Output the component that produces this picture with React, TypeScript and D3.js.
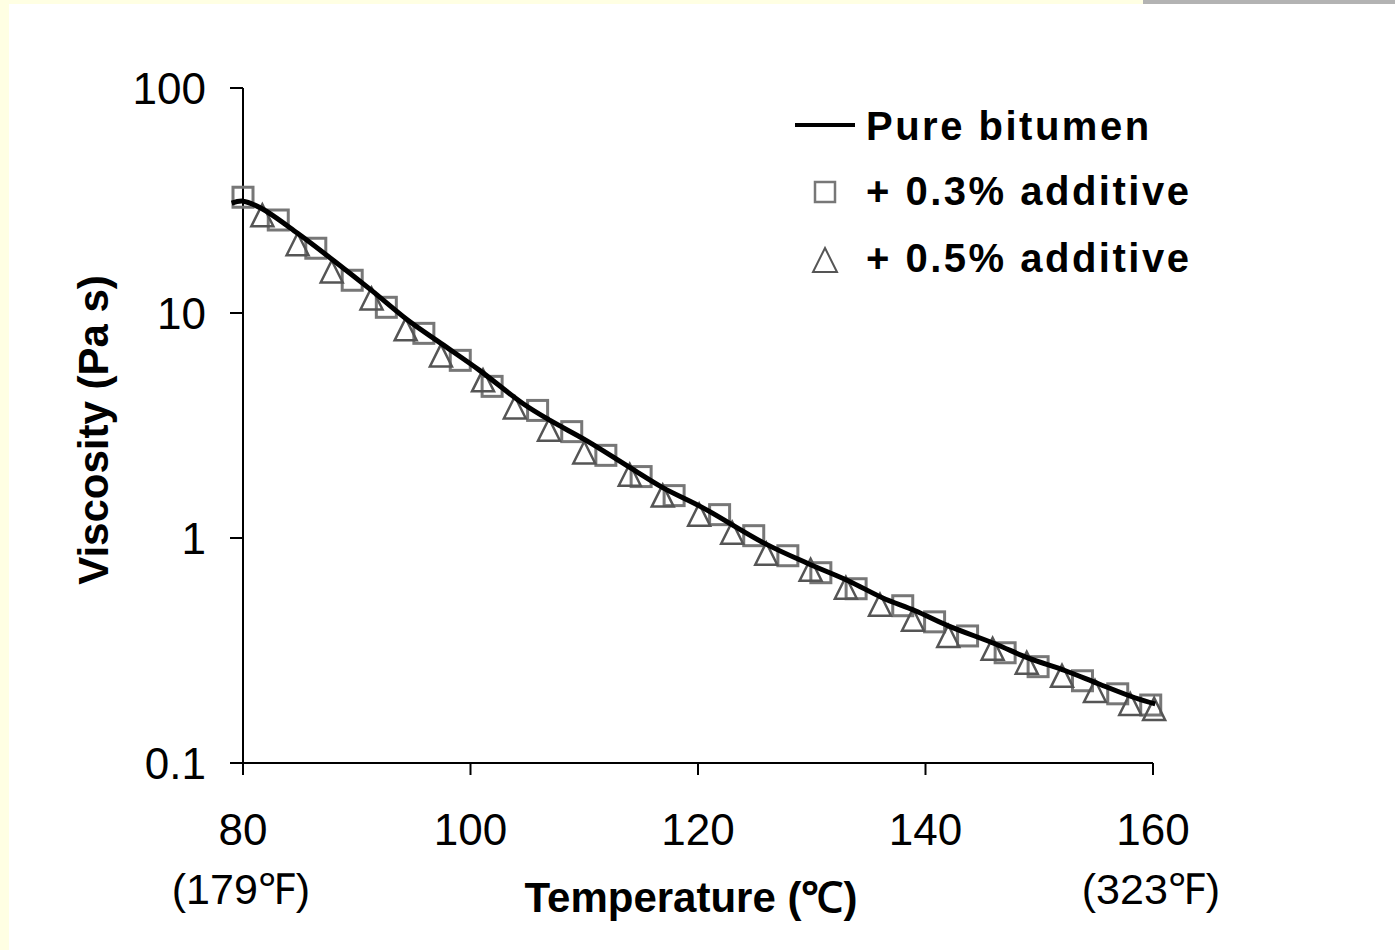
import React from 'react'
import * as d3 from 'd3'

// viscosity vs temperature, log scale
const lineTemps = [79, 80, 81.6, 84.8, 88.1, 91.3, 94.5, 97.4, 100.8, 104.6, 107, 110.2, 114, 116.9, 120.4, 125.9, 129.7, 133.2, 136.2, 139.1, 142, 146.1, 149, 152.3, 155.2, 158.4, 160.2]
const pureBitumen = [30.8, 31.4, 29.2, 22.6, 16.9, 12.6, 9.28, 7.33, 5.56, 3.96, 3.33, 2.71, 2.06, 1.675, 1.365, 0.944, 0.769, 0.646, 0.543, 0.475, 0.407, 0.339, 0.293, 0.257, 0.225, 0.195, 0.183]

const sqTemps = [80, 83.1, 86.4, 89.6, 92.6, 95.9, 99.1, 101.9, 105.9, 108.9, 111.9, 115, 117.9, 121.9, 124.9, 127.9, 130.8, 133.9, 138, 140.8, 143.7, 147, 149.9, 153.8, 156.9, 159.8]
const additive03 = [32.7, 25.9, 19.4, 13.98, 10.6, 8.12, 6.16, 4.72, 3.69, 2.97, 2.33, 1.875, 1.543, 1.27, 1.024, 0.834, 0.701, 0.595, 0.5, 0.424, 0.367, 0.309, 0.268, 0.232, 0.203, 0.181]

const triTemps = [81.7, 84.8, 87.8, 91.3, 94.3, 97.4, 101.1, 103.9, 106.9, 110, 114, 116.9, 120.1, 123, 126, 129.9, 133, 136, 138.9, 142, 145.9, 148.9, 152, 154.9, 158, 160.1]
const additive05 = [27.2, 20.2, 15.3, 11.6, 8.46, 6.48, 5.02, 3.8, 3.03, 2.4, 1.91, 1.543, 1.27, 1.056, 0.852, 0.723, 0.601, 0.505, 0.433, 0.367, 0.322, 0.279, 0.244, 0.209, 0.183, 0.174]

const yTicks = [0.1, 1, 10, 100]
const xTicks = [80, 100, 120, 140, 160]
const fahrenheit: Record<number, string> = {80: '(179℉)', 160: '(323℉)'}
const legendItems = ['Pure bitumen', '+ 0.3% additive', '+ 0.5% additive']

const W = 1395
const H = 950
const font = '"Liberation Sans", Arial, sans-serif'

export default function App() {
  const x = d3.scaleLinear().domain([80, 160]).range([243, 1153])
  const y = d3.scaleLog().domain([0.1, 100]).range([763, 88])

  const line = d3
    .line<number>()
    .x((d, i) => x(lineTemps[i]))
    .y((d) => y(d))
    .curve(d3.curveCatmullRom.alpha(0.5))

  const tri = (cx: number, cy: number, s: number) =>
    `M${cx},${cy - s / 2}L${cx + s / 2},${cy + s / 2}L${cx - s / 2},${cy + s / 2}Z`

  return (
    <svg width={W} height={H} style={{position: 'absolute', left: 0, top: 0, background: '#fff'}}>
      {/* page frame */}
      <rect x={0} y={0} width={1143} height={4} fill="#ffffe3" />
      <rect x={1143} y={0} width={W - 1143} height={4} fill="#b3b3b3" />
      <rect x={0} y={0} width={9} height={H} fill="#ffffe3" />

      {/* axes */}
      <g stroke="#000" strokeWidth={2}>
        <line x1={x(80)} x2={x(80)} y1={y(100)} y2={y(0.1)} />
        <line x1={x(80)} x2={x(160)} y1={y(0.1)} y2={y(0.1)} />
        {yTicks.map((t) => (
          <line key={t} x1={x(80) - 13} x2={x(80)} y1={y(t)} y2={y(t)} />
        ))}
        {xTicks.map((t) => (
          <line key={t} x1={x(t)} x2={x(t)} y1={y(0.1)} y2={y(0.1) + 12} />
        ))}
      </g>
      <g fontFamily={font} fontSize={44} fill="#000">
        {yTicks.map((t) => (
          <text key={t} x={206} y={y(t) + 16} textAnchor="end">
            {t}
          </text>
        ))}
        {xTicks.map((t) => (
          <text key={t} x={x(t)} y={845} textAnchor="middle">
            {t}
          </text>
        ))}
        {xTicks
          .filter((t) => fahrenheit[t])
          .map((t) => (
            <text key={'f' + t} x={x(t) - 2} y={904} textAnchor="middle" fontSize={43}>
              {fahrenheit[t]}
            </text>
          ))}
      </g>
      <text x={691} y={912} textAnchor="middle" fontFamily={font} fontWeight="bold" fontSize={42}>
        Temperature (℃)
      </text>
      <text
        transform="translate(108,430) rotate(-90)"
        textAnchor="middle"
        fontFamily={font}
        fontWeight="bold"
        fontSize={42}
      >
        Viscosity (Pa s)
      </text>

      {/* markers */}
      <g fill="none" stroke="#777" strokeWidth={3}>
        {additive03.map((v, i) => (
          <rect key={i} x={x(sqTemps[i]) - 10} y={y(v) - 10} width={20} height={20} />
        ))}
      </g>
      <g fill="none" stroke="#555" strokeWidth={2.5}>
        {additive05.map((v, i) => (
          <path key={i} d={tri(x(triTemps[i]), y(v), 22)} />
        ))}
      </g>
      <path d={line(pureBitumen) || ''} fill="none" stroke="#000" strokeWidth={5} />

      {/* legend */}
      <g fontFamily={font} fontWeight="bold" fontSize={40} letterSpacing={2.5}>
        <line x1={795} x2={855} y1={125} y2={125} stroke="#000" strokeWidth={4} />
        <text x={866} y={140}>{legendItems[0]}</text>
        <rect x={815} y={182} width={20} height={20} fill="none" stroke="#777" strokeWidth={2.5} />
        <text x={866} y={205}>{legendItems[1]}</text>
        <path d={tri(825, 260, 24)} fill="none" stroke="#555" strokeWidth={2} />
        <text x={866} y={272}>{legendItems[2]}</text>
      </g>
    </svg>
  )
}
